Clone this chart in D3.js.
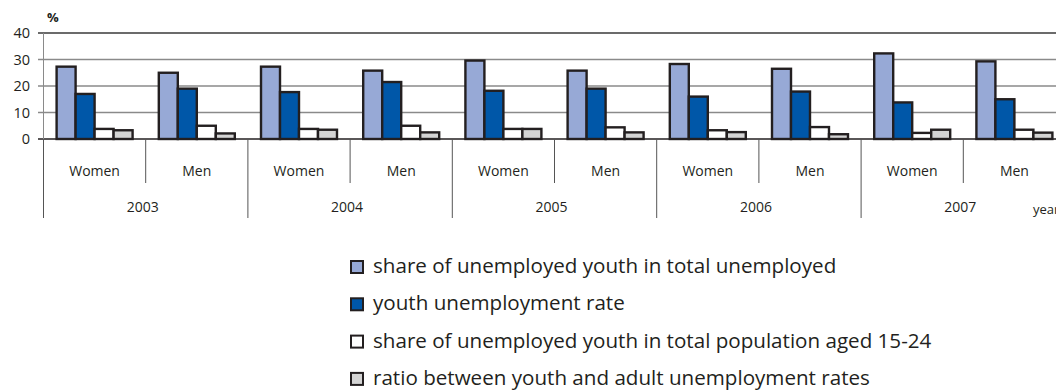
<!DOCTYPE html>
<html><head><meta charset="utf-8">
<script src="https://cdn.jsdelivr.net/npm/d3@7"></script>
<style>body{margin:0;background:#fff}svg{display:block}text{font-family:"Open Sans",sans-serif;fill:#231f20}</style>
</head><body><svg id="c" width="1056" height="390"></svg>
<script>
const years = ["2003","2004","2005","2006","2007"];
const sexes = ["Women","Men"];
const seriesNames = [
  "share of unemployed youth in total unemployed",
  "youth unemployment rate",
  "share of unemployed youth in total population aged 15-24",
  "ratio between youth and adult unemployment rates"
];
const seriesColors = ["#97a9d6","#0057a8","#ffffff","#d4d4d4"];
// values per category (2003 W, 2003 M, 2004 W, ...)
const shareTotal   = [27.3,25.0,27.3,25.8,29.6,25.8,28.3,26.5,32.3,29.3];
const youthRate    = [17.0,19.0,17.7,21.5,18.2,19.0,16.0,17.9,13.8,15.0];
const sharePop     = [3.8,5.0,3.8,5.0,3.8,4.4,3.3,4.5,2.3,3.5];
const ratioYA      = [3.3,2.1,3.5,2.5,3.8,2.5,2.6,1.8,3.5,2.4];
const yTicks = [0,10,20,30,40];

const seriesVals = [shareTotal, youthRate, sharePop, ratioYA];
const cats = [];
years.forEach(y => sexes.forEach(s => cats.push({year:y, sex:s, key:y+"-"+s})));
cats.forEach((c,i)=>{ c.vals = seriesVals.map(a=>a[i]); });

const svg = d3.select("#c");
const left = 43.5, right = 1065.5, y0 = 139, yTop = 33;
const x0 = d3.scaleBand().domain(cats.map(c=>c.key)).range([left,right]).padding(0);
const x1 = d3.scaleBand().domain(d3.range(4)).range([0,x0.bandwidth()]).paddingInner(0).paddingOuter(0.69);
const y = d3.scaleLinear().domain([0,40]).range([y0,yTop]);

// gridlines
svg.append("g").selectAll("line").data(yTicks).join("line")
  .attr("x1",38).attr("x2",1056).attr("y1",d=>y(d)).attr("y2",d=>y(d))
  .attr("stroke",d=>d===40?"#3a3a3a":(d===0?"#231f20":"#8a8a8a")).attr("stroke-width",d=>d===0?1.6:1.3);
// y axis line
svg.append("line").attr("x1",left).attr("x2",left).attr("y1",yTop).attr("y2",y0).attr("stroke","#8a8a8a").attr("stroke-width",1);
// y tick labels
svg.append("g").selectAll("text").data(yTicks).join("text")
  .attr("x",30).attr("y",d=>y(d)).attr("dy","0.35em").attr("text-anchor","end")
  .style("font-size","14.5px").text(d=>d);
svg.append("text").attr("x",47).attr("y",22).style("font-size","13px").style("font-weight","bold").text("%");

// bars
const g = svg.append("g").selectAll("g").data(cats).join("g")
  .attr("transform",d=>`translate(${x0(d.key)},0)`);
g.selectAll("rect").data(d=>d.vals.map((v,i)=>({v,i}))).join("rect")
  .attr("x",d=>x1(d.i)).attr("width",x1.bandwidth())
  .attr("y",d=>y(d.v)).attr("height",d=>y0-y(d.v))
  .attr("fill",d=>seriesColors[d.i]).attr("stroke","#231f20").attr("stroke-width",2.4);

// category axis
const ax = svg.append("g");
cats.forEach((c,i)=>{
  const xs = x0(c.key);
  const long = c.sex==="Women";
  ax.append("line").attr("x1",xs).attr("x2",xs).attr("y1",y0).attr("y2",long?218:183)
    .attr("stroke","#555").attr("stroke-width",1);
});
ax.append("line").attr("x1",right).attr("x2",right).attr("y1",y0).attr("y2",218).attr("stroke","#555");
ax.selectAll("text.sex").data(cats).join("text").attr("class","sex")
  .attr("x",d=>x0(d.key)+x0.bandwidth()/2).attr("y",176).attr("text-anchor","middle")
  .style("font-size","14px").text(d=>d.sex);
ax.selectAll("text.yr").data(years).join("text").attr("class","yr")
  .attr("x",d=>x0(d+"-Women")+x0.bandwidth()-3).attr("y",212).attr("text-anchor","middle")
  .style("font-size","14px").text(d=>d);
svg.append("text").attr("x",1033).attr("y",214).style("font-size","13px").text("years");

// legend
const lg = svg.append("g").selectAll("g").data(seriesNames).join("g")
  .attr("transform",(d,i)=>`translate(351,${261+i*37.3})`);
lg.append("rect").attr("width",12).attr("height",12).attr("fill",(d,i)=>seriesColors[i])
  .attr("stroke","#231f20").attr("stroke-width",2);
lg.append("text").attr("x",22).attr("y",12).style("font-size","20.6px").text(d=>d);
</script></body></html>
